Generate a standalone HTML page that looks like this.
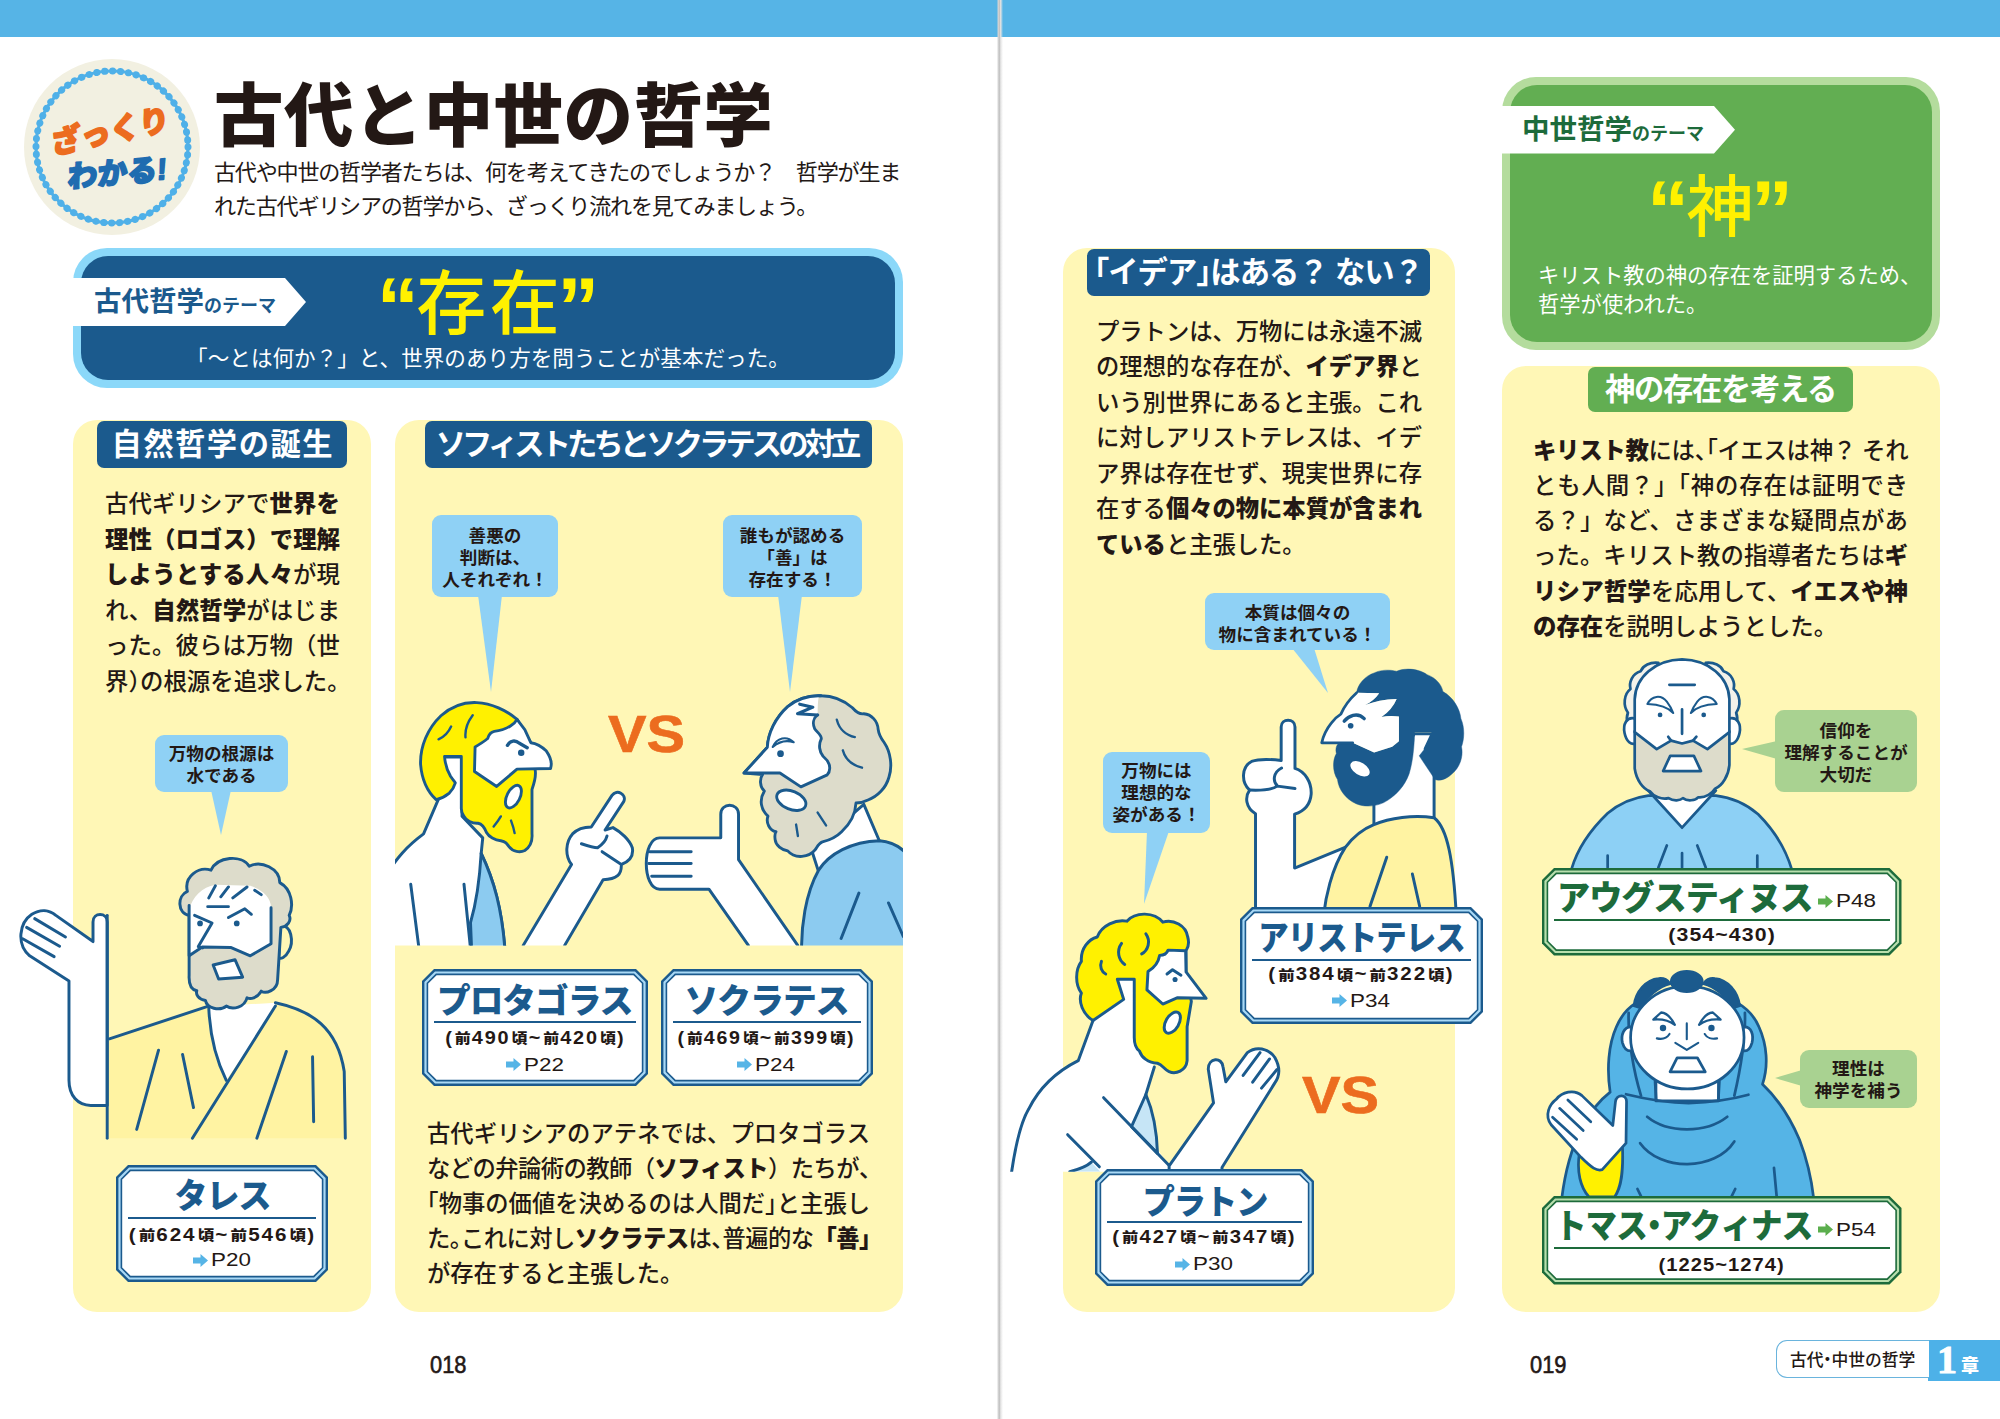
<!DOCTYPE html>
<html lang="ja">
<head>
<meta charset="utf-8">
<title>古代と中世の哲学</title>
<style>
html,body{margin:0;padding:0;}
body{width:2000px;height:1419px;position:relative;overflow:hidden;background:#fff;
 font-family:"Liberation Sans","Noto Sans CJK JP",sans-serif;color:#231815;}
.abs{position:absolute;}
.topbar{left:0;top:0;width:2000px;height:37px;background:#56b4e6;}
.gutter{left:996.6px;top:0;width:6px;height:1419px;background:linear-gradient(90deg,rgba(215,215,215,0),#d6d6d6 18%,#c1c1c1 46%,#e4e4e4 60%,rgba(240,240,240,0) 100%);}
.panel{background:#fff7b6;border-radius:24px;}
.hd{background:#1b5a8d;color:#fff;border-radius:7px;font-weight:700;text-align:center;white-space:nowrap;}
.hd.g{background:#62ae52;}
.body{font-size:23.4px;line-height:35.55px;font-weight:500;color:#231815;white-space:nowrap;letter-spacing:0;}
.body b{font-weight:900;}
.body div{text-align:justify;text-align-last:justify;text-justify:inter-character;}
.body div.e{text-align-last:left;}
i.h{font-style:normal;font-feature-settings:"halt" 1;}
.bub{background:#8fd1f5;border-radius:9px;color:#231815;font-weight:700;font-size:17.6px;line-height:21.8px;text-align:center;white-space:nowrap;}
.bub.g{background:#a9d291;}
.np{white-space:nowrap;text-align:center;}
.np .nm{font-weight:900;color:#1b5a8d;}
.np.g .nm{color:#1d6b3b;}
.np .dt{font-family:"Liberation Sans","Noto Sans CJK JP",sans-serif;font-weight:700;font-size:17.5px;color:#231815;letter-spacing:1.6px;}
.np .dt .k{font-size:14px;font-weight:900;letter-spacing:0;margin:0 1px;position:relative;top:-0.5px;}
.np .pg{font-family:"Liberation Sans",sans-serif;font-weight:400;font-size:17.5px;color:#231815;white-space:nowrap;}
.np .pg span{display:inline-block;transform:scaleX(1.28);transform-origin:0 50%;}
.np svg.ar{position:relative;display:inline-block;vertical-align:-1px;}
.vs{font-family:"Liberation Sans",sans-serif;font-weight:700;color:#ec6c1f;font-size:52px;line-height:50px;white-space:nowrap;transform:scaleX(1.11);transform-origin:0 50%;-webkit-text-stroke:0.6px #ec6c1f;}
.q{display:inline-block;font-family:"Liberation Sans",sans-serif;font-weight:700;font-size:84px;line-height:40px;vertical-align:top;position:relative;top:23.5px;margin:0 -2.5px;}
svg{position:absolute;overflow:visible;}
svg.c{overflow:hidden;}
</style>
</head>
<body>
<div class="abs topbar"></div>
<div class="abs gutter"></div>

<!-- ===== LEFT PAGE HEADER ===== -->
<svg id="badge" style="left:22px;top:58px" width="180" height="180" viewBox="0 0 180 180">
 <circle cx="90" cy="89" r="88" fill="#f2f0e1"/>
 <circle cx="90" cy="89" r="76" fill="none" stroke="#4fb0e8" stroke-width="7" stroke-dasharray="0.1 7.86" stroke-linecap="round"/>
 <circle cx="90" cy="89" r="76" fill="none" stroke="#4fb0e8" stroke-width="3.2"/>
 <text x="90" y="94" text-anchor="middle" font-family="'Liberation Sans','Noto Sans CJK JP',sans-serif" font-weight="900" font-size="30" fill="#ec6c1f" stroke="#ec6c1f" stroke-width="1.8" stroke-linejoin="round" transform="translate(9,-12.5) rotate(-12 90 80) skewX(-8)">ざっくり</text>
 <text x="96" y="127" text-anchor="middle" font-family="'Liberation Sans','Noto Sans CJK JP',sans-serif" font-weight="900" font-size="30" fill="#1f6cb0" stroke="#1f6cb0" stroke-width="1.6" stroke-linejoin="round" transform="translate(16,-2.5) rotate(-5 90 120) skewX(-8)">わかる!</text>
</svg>
<div class="abs" id="title" style="left:214px;top:67px;font-size:69.5px;line-height:100px;font-weight:900;color:#231815;white-space:nowrap;letter-spacing:0.4px;">古代と中世の哲学</div>
<div class="abs" id="sub1" style="left:214px;top:156px;font-size:22.1px;line-height:34px;font-weight:400;white-space:nowrap;letter-spacing:-1.25px;">古代や中世の哲学者たちは、何を考えてきたのでしょうか？　哲学が生ま<br>れた古代ギリシアの哲学から、ざっくり流れを見てみましょう。</div>

<!-- theme box (ancient) -->
<div class="abs" style="left:73px;top:248px;width:830px;height:140px;border-radius:34px;background:#8bd8f9;"></div>
<div class="abs" style="left:81px;top:256px;width:814px;height:124px;border-radius:27px;background:#1b5a8d;"></div>
<svg style="left:73px;top:278px" width="236" height="48" viewBox="0 0 236 48"><polygon points="0,0 212,0 233,24 212,48 0,48" fill="#fff"/></svg>
<div class="abs" id="tag1" style="left:94px;top:278px;height:48px;line-height:48px;color:#1b5a8d;font-weight:700;white-space:nowrap;"><span style="font-size:27.5px;">古代哲学</span><span style="font-size:18px;position:relative;top:1px;">のテーマ</span></div>
<div class="abs" id="sonzai" style="left:288px;top:263px;width:400px;text-align:center;font-size:70px;line-height:84px;font-weight:500;color:#fff100;white-space:nowrap;"><span class="q">“</span><span style="letter-spacing:3.5px;margin-right:-3.5px">存在</span><span class="q">”</span></div>
<div class="abs" id="sonzaisub" style="left:88px;top:342px;width:800px;text-align:center;font-size:21.6px;line-height:34px;color:#fff;white-space:nowrap;">「～とは何か？」と、世界のあり方を問うことが基本だった。</div>

<!-- ===== PANEL 1 ===== -->
<div class="abs panel" style="left:73px;top:420px;width:298px;height:892px;"></div>
<div class="abs hd" style="left:97px;top:421px;width:250px;height:47px;line-height:48px;font-size:30.3px;"><span id="h1" style="display:inline-block;letter-spacing:1.5px;margin-right:-1.5px;">自然哲学の誕生</span></div>
<div class="abs body" id="b1" style="left:105px;top:487.2px;width:235px;"><div>古代ギリシアで<b>世界を</b></div><div><b>理性（ロゴス）で理解</b></div><div><b>しようとする人々</b>が現</div><div>れ、<b>自然哲学</b>がはじま</div><div>った。彼らは万物（世</div><div class="e">界<i class="h">）</i>の根源を追求した。</div></div>
<div class="abs bub" style="left:155px;top:735px;width:133px;height:57px;padding-top:0;"><div style="padding-top:9px">万物の根源は<br>水である</div></div>
<svg style="left:205px;top:790px" width="30" height="46" viewBox="0 0 30 46"><polygon points="6,0 26,0 16,45" fill="#8fd1f5"/></svg>

<!-- ===== PANEL 2 ===== -->
<div class="abs panel" style="left:395px;top:420px;width:508px;height:892px;"></div>
<div class="abs hd" style="left:425px;top:421px;width:447px;height:47px;line-height:48px;font-size:30.3px;"><span id="h2" style="display:inline-block;letter-spacing:-3.9px;margin-right:3.9px;">ソフィストたちとソクラテスの対立</span></div>
<div class="abs bub" style="left:432px;top:515px;width:126px;height:82px;"><div style="padding-top:11px">善悪の<br>判断は、<br>人それぞれ！</div></div>
<svg style="left:470px;top:595px" width="40" height="98" viewBox="0 0 40 98"><polygon points="8,0 32,0 21,97" fill="#8fd1f5"/></svg>
<div class="abs bub" style="left:723px;top:515px;width:139px;height:82px;"><div style="padding-top:11px">誰もが認める<br>「善」は<br>存在する！</div></div>
<svg style="left:770px;top:595px" width="40" height="98" viewBox="0 0 40 98"><polygon points="8,0 32,0 20,97" fill="#8fd1f5"/></svg>
<div class="abs vs" style="left:607.5px;top:708.5px;">VS</div>
<div class="abs body" id="b2" style="left:427px;top:1117px;width:443px;font-size:23.3px;line-height:35px;"><div>古代ギリシアのアテネでは、プロタゴラス</div><div style="letter-spacing:-0.62px">などの弁論術の教師（<b>ソフィスト</b>）たちが<i class="h">、</i></div><div><i class="h">「</i>物事の価値を決めるのは人間だ<i class="h">」</i>と主張し</div><div style="letter-spacing:-0.62px">た<i class="h">。</i>これに対し<b>ソクラテス</b>は<i class="h">、</i>普遍的な<b>「善<i class="h">」</i></b></div><div class="e">が存在すると主張した。</div></div>
<div class="abs" style="left:430px;top:1351.5px;font-size:24.3px;line-height:26px;font-weight:400;transform:scaleX(0.9);transform-origin:0 50%;-webkit-text-stroke:0.6px #231815;">018</div>

<!-- ===== PANEL 3 ===== -->
<div class="abs panel" style="left:1063px;top:248px;width:392px;height:1064px;"></div>
<div class="abs hd" style="left:1087px;top:249px;width:343px;height:47px;line-height:48px;font-size:30.3px;"><span id="h3" style="display:inline-block;letter-spacing:-1px;"><i class="h">「</i>イデア<i class="h">」</i>はある？ ない？</span></div>
<div class="abs body" id="b3" style="left:1096px;top:314.5px;width:326px;font-size:23.3px;"><div>プラトンは、万物には永遠不滅</div><div>の理想的な存在が、<b>イデア界</b>と</div><div>いう別世界にあると主張。これ</div><div>に対しアリストテレスは、イデ</div><div>ア界は存在せず、現実世界に存</div><div>在する<b>個々の物に本質が含まれ</b></div><div class="e"><b>ている</b>と主張した。</div></div>
<div class="abs bub" style="left:1205px;top:593px;width:185px;height:57px;"><div style="padding-top:10px">本質は個々の<br>物に含まれている！</div></div>
<svg style="left:1290px;top:648px" width="50" height="46" viewBox="0 0 50 46"><polygon points="2,0 24,0 38,45" fill="#8fd1f5"/></svg>
<div class="abs bub" style="left:1103px;top:752px;width:107px;height:81px;"><div style="padding-top:9px">万物には<br>理想的な<br>姿がある！</div></div>
<svg style="left:1130px;top:831px" width="50" height="86" viewBox="0 0 50 86"><polygon points="17,0 39,0 14,73" fill="#8fd1f5"/></svg>
<div class="abs vs" style="left:1301.5px;top:1070px;">VS</div>

<!-- ===== GREEN THEME BOX ===== -->
<div class="abs" style="left:1502px;top:77px;width:438px;height:273px;border-radius:34px;background:#b4dc9d;"></div>
<div class="abs" style="left:1510px;top:85px;width:422px;height:257px;border-radius:27px;background:#62ae52;"></div>
<svg style="left:1502px;top:105.5px" width="236" height="47.5" viewBox="0 0 236 48" preserveAspectRatio="none"><polygon points="0,0 212,0 233,24 212,48 0,48" fill="#fff"/></svg>
<div class="abs" id="tag2" style="left:1522px;top:105.5px;height:48px;line-height:48px;color:#1d6b3b;font-weight:700;white-space:nowrap;"><span style="font-size:27.5px;">中世哲学</span><span style="font-size:18px;position:relative;top:1px;">のテーマ</span></div>
<div class="abs" id="kami" style="left:1520px;top:166px;width:400px;text-align:center;font-size:67px;line-height:84px;font-weight:500;color:#fff100;white-space:nowrap;"><span class="q">“</span>神<span class="q">”</span></div>
<div class="abs" id="kamisub" style="left:1538px;top:261.5px;font-size:21.3px;line-height:29.5px;color:#fff;white-space:nowrap;">キリスト教の神の存在を証明するため、<br>哲学が使われた。</div>

<!-- ===== PANEL 4 ===== -->
<div class="abs panel" style="left:1502px;top:366px;width:438px;height:946px;"></div>
<div class="abs hd g" style="left:1588px;top:367px;width:265px;height:45px;line-height:46px;font-size:30.3px;"><span id="h4" style="display:inline-block;letter-spacing:-1.3px;">神の存在を考える</span></div>
<div class="abs body" id="b4" style="left:1533px;top:433.5px;width:375px;line-height:35.3px;"><div style="letter-spacing:-0.5px"><b>キリスト教</b>には<i class="h">、</i><i class="h">「</i>イエスは神？ それ</div><div>とも人間？」「神の存在は証明でき</div><div>る？」など、さまざまな疑問点があ</div><div>った。キリスト教の指導者たちは<b>ギ</b></div><div><b>リシア哲学</b>を応用して、<b>イエスや神</b></div><div class="e"><b>の存在</b>を説明しようとした。</div></div>
<div class="abs bub g" style="left:1775px;top:710px;width:142px;height:82px;"><div style="padding-top:11px">信仰を<br>理解することが<br>大切だ</div></div>
<svg style="left:1742px;top:735px" width="36" height="30" viewBox="0 0 36 30"><polygon points="35,6 35,24 0,14" fill="#a9d291"/></svg>
<div class="abs bub g" style="left:1800px;top:1050px;width:117px;height:58px;"><div style="padding-top:9px">理性は<br>神学を補う</div></div>
<svg style="left:1775px;top:1066px" width="28" height="24" viewBox="0 0 28 24"><polygon points="27,4 27,20 0,12" fill="#a9d291"/></svg>
<div class="abs" style="left:1530px;top:1351.5px;font-size:24.3px;line-height:26px;font-weight:400;transform:scaleX(0.9);transform-origin:0 50%;-webkit-text-stroke:0.6px #231815;">019</div>

<!-- footer tab -->
<div class="abs" style="left:1928px;top:1340px;width:72px;height:41px;background:#4db1e8;"></div>
<div class="abs" style="left:1776px;top:1340px;width:152px;height:36px;border:1.6px solid #6ab4dd;border-right:none;border-radius:11px 0 0 11px;background:#fff;"></div>
<div class="abs" style="left:1790px;top:1341px;height:41px;line-height:40px;font-size:16.8px;font-weight:500;white-space:nowrap;letter-spacing:0;">古代<span style="margin:0 -4.5px">・</span>中世の哲学</div>
<div class="abs" style="left:1937px;top:1337.5px;height:44px;line-height:44px;color:#fff;white-space:nowrap;"><span style="font-family:'Liberation Serif',serif;font-weight:700;font-size:40px;-webkit-text-stroke:1px #fff;">1</span><span style="font-size:18px;font-weight:900;margin-left:4px;position:relative;top:-1px;">章</span></div>

<!--FIG-START-->
<svg id="figs" style="left:0;top:0" width="2000" height="1419" viewBox="0 0 2000 1419">
<!-- THALES: zoom region (10,840)-(370,1150), scale 360/1648 -->
<g transform="translate(10,840) scale(0.218447)" stroke="#1b5a8d" stroke-width="13.5" stroke-linejoin="round" stroke-linecap="round" fill="none">
 <!-- robe -->
 <path d="M445,1365 L445,912 L905,762 L1215,745 C1380,780 1500,860 1530,1060 L1535,1365 Z" fill="#fff3a2" stroke="none"/>
 <!-- neck -->
 <path d="M905,762 L1215,745 L1215,770 L990,1100 C930,980 915,880 905,762 Z" fill="#fff" stroke="none"/>
 <path d="M910,770 C915,880 935,990 990,1100"/>
 <path d="M1215,760 L835,1365"/>
 <path d="M455,910 L905,762"/>
 <path d="M1215,745 C1380,780 1500,860 1530,1060 L1535,1365"/>
 <path d="M680,962 L580,1325 M790,982 L840,1225 M1265,968 L1130,1365 M1385,992 L1390,1290"/>
 <!-- arm + hand -->
 <path d="M445,1215 L370,1215 C310,1215 270,1170 270,1100 L270,645 L90,530 C30,480 40,380 100,340 C140,315 180,320 210,345 L380,465 L380,375 C380,330 445,330 445,375 Z" fill="#fff"/>
 <path d="M445,345 L445,1365"/>
 <path d="M113,360 L254,444 M76,400 L227,486 M58,452 L202,534"/>
 <!-- ear -->
 <path d="M1235,395 C1290,380 1300,470 1275,510 C1260,540 1240,545 1230,540 Z" fill="#fff7b6"/>
 <!-- hair + beard -->
 <path d="M820,345 C765,335 765,255 812,235 C795,165 865,120 920,138 C950,75 1060,65 1095,120 C1150,92 1235,130 1235,195 C1290,225 1300,300 1278,345 C1290,370 1270,395 1240,400 L1230,560 L1225,640 C1225,690 1170,705 1150,692 C1130,725 1100,730 1085,722 C1075,765 1020,780 990,760 C960,785 900,770 895,735 C860,730 850,705 855,690 C830,685 818,660 820,620 Z" fill="#dddccb"/>
 <!-- face -->
 <path d="M820,530 L820,320 C835,260 880,215 940,205 L1100,210 C1150,225 1195,260 1195,310 L1195,475 L1100,530 L1010,492 L880,490 Z" fill="#fff" stroke="none"/>
 <path d="M820,300 L820,530 L880,490 L1010,492 L1100,530 L1195,475 L1195,310"/>
 <!-- mouth -->
 <path d="M930,572 L1030,548 L1065,628 L955,636 Z" fill="#fff"/>
 <!-- features -->
 <path d="M905,305 L1000,305 M845,345 L925,380 L862,488 L882,494 M1000,355 L1075,315 L1105,340"/>
 <path d="M940,210 L910,265 M1000,215 L965,260 M1085,215 L1020,265 M1120,230 L1150,250"/>
 <circle cx="870" cy="382" r="13" fill="#1b5a8d" stroke="none"/><circle cx="1038" cy="382" r="13" fill="#1b5a8d" stroke="none"/>
</g>
<svg class="c" x="395" y="600" width="508" height="345.5" viewBox="395 600 508 345.5">
<!-- PROTAGORAS: zoom region (390,680)-(670,960) scale 280/1419 -->
<g transform="translate(390,680) scale(0.19732)" stroke="#1b5a8d" stroke-width="15" stroke-linejoin="round" stroke-linecap="round" fill="none">
 <!-- body -->
 <path d="M-30,1400 L-30,1010 C30,900 90,840 170,780 L245,605 L275,390 L365,390 L365,690 L470,800 L462,880 C520,1000 570,1150 585,1400 Z" fill="#fff"/>
 <path d="M462,878 C525,1010 570,1160 585,1400 L415,1400 L408,1230 C440,1120 455,1000 462,878 Z" fill="#8ccbf0"/>
 <path d="M105,1035 L152,1400 M375,1035 L412,1400"/>
 <!-- arm -->
 <path d="M675,1400 L675,1345 L920,935 C885,890 890,820 925,780 C950,755 990,745 1020,745 L1125,585 C1150,550 1200,580 1185,615 L1090,760 L1130,748 C1170,770 1215,810 1228,850 C1235,890 1215,920 1172,935 C1175,985 1150,1010 1080,1012 L885,1345 L885,1400 Z" fill="#fff"/>
 <path d="M970,830 C1000,840 1030,850 1052,850 C1075,835 1095,810 1100,790 M1075,870 L1165,930"/>
</g>
<!-- PROTAGORAS head: zoom region (405,690)-(575,860) scale 170/1419 -->
<g transform="translate(405,690) scale(0.119803)" stroke="#1b5a8d" stroke-width="24" stroke-linejoin="round" stroke-linecap="round" fill="none">
 <path d="M260,915 C190,850 140,740 130,620 C125,470 190,320 300,215 C390,135 500,100 600,105 C720,110 850,170 935,245 L1050,440 L1085,660 C1095,700 1085,760 1060,830 L1060,1200 C1065,1260 1045,1310 1000,1340 C960,1360 900,1350 870,1310 C850,1280 840,1265 800,1258 C750,1255 700,1225 680,1190 C665,1150 650,1120 610,1112 C560,1115 510,1090 490,1050 C475,1030 470,1010 470,990 L470,555 L330,555 C335,620 350,670 380,720 C400,750 415,765 420,775 C410,810 390,840 370,860 C340,885 300,905 260,915 Z" fill="#fff100"/>
 <path d="M585,475 C620,455 660,430 690,405 C700,370 720,350 745,345 C790,340 840,325 880,300 C905,285 925,265 935,245 L1000,330 L1050,440 C1090,445 1140,470 1180,510 C1215,560 1230,610 1215,655 L935,660 L765,805 L580,680 Z" fill="#fff"/>
 <ellipse cx="905" cy="890" rx="54" ry="102" transform="rotate(27 905 890)" fill="#fff"/>
 <path d="M385,305 C360,360 320,395 280,412 M565,210 C520,270 500,340 505,395 M800,1055 C780,1090 760,1115 740,1140 M885,1090 C900,1130 910,1165 915,1195" stroke-width="20"/>
 <path d="M855,462 C880,420 920,415 955,445 L1020,482" stroke-width="28"/>
 <circle cx="970" cy="524" r="27" fill="#1b5a8d" stroke="none"/>
</g>
<!-- SOCRATES: zoom region (630,680)-(910,960) -->
<g transform="translate(630,680) scale(0.19732)" stroke="#1b5a8d" stroke-width="15" stroke-linejoin="round" stroke-linecap="round" fill="none">
 <!-- neck -->
 <path d="M920,860 L960,985 L1270,830 L1185,630 Z" fill="#fff"/>
 <!-- robe -->
 <path d="M870,1400 C865,1250 890,1080 955,965 C1010,880 1120,820 1265,815 C1330,820 1380,850 1420,900 L1420,1400 Z" fill="#8ccbf0"/>
 <path d="M1160,1080 L1070,1310 M1310,1130 L1385,1300"/>
</g>
<!-- SOCRATES head: zoom region (735,685)-(905,855) scale 170/1419 -->
<g transform="translate(735,685) scale(0.119803)" stroke="#1b5a8d" stroke-width="24" stroke-linejoin="round" stroke-linecap="round" fill="none">
 <path d="M270,520 C275,400 340,270 440,180 C520,115 620,85 720,90 C820,90 910,130 980,190 C1010,225 1040,245 1075,240 C1140,245 1190,300 1195,370 C1200,410 1215,440 1245,480 C1300,560 1315,680 1285,770 C1260,860 1190,930 1110,960 C1080,975 1040,985 1010,985 C1005,1080 960,1160 890,1225 C850,1265 790,1295 730,1310 C700,1320 690,1345 670,1375 C620,1440 500,1455 440,1385 C390,1375 340,1340 335,1290 C330,1255 335,1235 342,1225 C290,1215 255,1150 275,1095 C215,1040 200,960 245,885 C205,850 205,780 230,748 L75,735 Z" fill="#dddccb"/>
 <path d="M270,520 C275,400 340,270 440,180 C520,115 620,85 700,90 C690,140 690,200 690,250 C655,275 645,320 665,365 C690,400 725,420 720,450 C695,500 705,560 735,595 C770,625 795,660 790,700 C790,720 780,740 770,750 L550,850 L375,735 L75,735 Z" fill="#fff" stroke="none"/>
 <path d="M690,250 C655,275 645,320 665,365 C690,400 725,420 720,450 C695,500 705,560 735,595 C770,625 795,660 790,700 C790,720 780,740 770,750 L550,850 L375,735 L75,735 L270,520 C275,400 340,270 440,180 C520,115 620,85 720,90"/>
 <path d="M540,160 L650,185 L522,240 L690,250" stroke-width="26"/>
 <ellipse cx="470" cy="962" rx="128" ry="76" transform="rotate(22 470 962)" fill="#fff"/>
 <path d="M850,290 C870,370 930,420 1000,435 M900,545 C920,620 980,670 1060,690 M690,1065 L760,1172 M510,1165 L525,1260" stroke-width="20"/>
 <path d="M315,517 C350,440 430,420 490,478 C430,458 370,470 315,517 Z" fill="#fff" stroke-width="18"/>
 <circle cx="380" cy="573" r="28" fill="#1b5a8d" stroke="none"/>
</g>
<g transform="translate(630,680) scale(0.19732)" stroke="#1b5a8d" stroke-width="15" stroke-linejoin="round" stroke-linecap="round" fill="none">
 <!-- arm/hand -->
 <path d="M600,1400 L600,1345 L400,1060 L150,1060 C60,1060 60,800 150,800 L460,800 L460,680 C460,620 550,620 550,680 L550,910 L850,1345 L850,1400 Z" fill="#fff"/>
 <path d="M100,870 L310,870 M95,930 L310,930 M110,995 L310,995"/>
</g>
</svg>
<!-- ARISTOTLE: zoom region (1220,650)-(1500,930) -->
<svg class="c" x="1200" y="600" width="300" height="315" viewBox="1200 600 300 315">
<g transform="translate(1220,650) scale(0.19732)" stroke="#1b5a8d" stroke-width="15" stroke-linejoin="round" stroke-linecap="round" fill="none">
 <!-- neck -->
 <path d="M780,700 L780,890 L1085,860 L1085,560 L1040,500 L1075,425 L985,425 Z" fill="#fff"/>
 <!-- arm -->
 <path d="M180,1400 L180,830 C130,800 125,745 150,710 C105,670 110,590 160,565 C200,550 270,555 310,560 L310,390 C310,345 380,345 380,390 L380,600 C430,615 465,670 462,730 C458,780 430,815 378,832 L378,1105 L640,998 L700,1000 L600,1400 Z" fill="#fff"/>
 <path d="M150,710 C200,712 260,712 290,690 M312,598 C270,620 265,665 292,690 L380,702"/>
 <!-- robe -->
 <path d="M520,1400 C530,1250 570,1100 635,1000 C680,940 730,905 780,885 C860,850 980,835 1085,850 C1150,900 1185,1050 1200,1400 Z" fill="#fff3a2"/>
 <path d="M845,1050 L760,1300 M975,1135 L1012,1300"/>
</g>
<!-- head: zoom region (1320,660)-(1480,820) scale 160/1419 -->
<g transform="translate(1320,660) scale(0.11275)" stroke="#1b5a8d" stroke-width="26" stroke-linejoin="round" stroke-linecap="round" fill="none">
 <path d="M325,290 C330,220 400,140 480,115 C540,85 620,85 680,100 C760,65 880,80 950,130 C1030,160 1080,220 1090,280 C1180,330 1240,430 1250,520 C1285,600 1280,700 1255,770 C1275,860 1235,960 1170,1010 C1120,1060 1060,1075 1020,1060 L880,850 C930,790 975,720 990,640 L840,640 C835,760 825,900 790,1010 C750,1120 680,1190 600,1245 C520,1300 400,1310 320,1275 C230,1235 165,1150 155,1060 C110,990 110,890 145,830 C135,790 145,760 160,745 L290,735 L480,820 L640,770 L700,720 L700,500 Q610,490 545,505 Q640,440 680,345 Q520,350 400,400 Q480,360 525,295 Z" fill="#1b5a8d" stroke-width="4"/>
 <path d="M325,290 L525,295 Q480,360 400,400 Q520,350 680,345 Q640,440 545,505 Q610,490 700,500 L700,720 L640,770 L480,820 L290,735 L15,735 C25,690 60,610 100,560 C130,520 160,495 185,480 C215,410 270,340 325,290 Z" fill="#fff" stroke="none"/>
 <path d="M290,735 L15,735 C25,690 60,610 100,560 C130,520 160,495 185,480 C215,410 270,340 325,290" stroke-width="24"/>
 <ellipse cx="355" cy="965" rx="95" ry="55" transform="rotate(32 355 965)" fill="#fff" stroke="none"/>
 <path d="M215,542 C250,500 330,455 392,520" stroke-width="30"/>
 <circle cx="272" cy="583" r="25" fill="#1b5a8d" stroke="none"/>
</g>
</svg>
<!-- PLATO: zoom region (1000,900)-(1300,1200) scale 300/1419 -->
<svg class="c" x="1000" y="880" width="320" height="291.7" viewBox="1000 880 320 291.7">
<g transform="translate(1000,900) scale(0.21142)" stroke="#1b5a8d" stroke-width="14" stroke-linejoin="round" stroke-linecap="round" fill="none">
 <!-- body -->
 <path d="M55,1285 C75,1150 100,1050 135,990 C180,900 250,820 370,760 L440,570 L585,470 L555,375 L635,375 L635,650 L730,790 L690,920 L745,1180 L800,1258 L800,1330 L40,1330 Z" fill="#fff" stroke="none"/>
 <path d="M55,1285 C75,1150 100,1050 135,990 C180,900 250,820 370,760 L440,570"/>
 <path d="M690,920 L622,1072 L745,1199 C742,1100 725,1000 690,920 Z" fill="#c6e5f6"/>
 <path d="M330,1285 C370,1275 410,1260 432,1240 L475,1285 Z" fill="#c6e5f6" stroke="none"/>
 <path d="M330,1285 C370,1275 410,1260 432,1240"/>
 <path d="M730,790 L690,920 M490,935 L800,1256 M320,1110 L470,1262"/>
 <!-- arm -->
 <path d="M800,1330 L800,1258 L1010,960 L985,800 C985,745 1050,740 1055,790 L1068,860 L1170,722 C1210,690 1270,700 1300,745 C1325,790 1325,830 1300,865 L1050,1265 L1050,1330 Z" fill="#fff"/>
 <path d="M1230,722 L1150,830 M1275,752 L1195,862 M1310,802 L1237,890"/>
 <!-- hair + beard -->
 <path d="M440,570 C390,540 370,480 385,440 C355,400 355,330 385,290 C380,230 420,185 460,175 C480,120 550,90 600,100 C640,55 730,55 770,105 C820,90 880,120 888,175 C895,200 890,225 880,240 L880,340 L905,480 L885,600 L885,760 C880,810 830,825 800,812 C775,800 770,780 745,772 C700,770 670,745 660,715 C640,700 635,670 635,650 L635,375 L555,375 L585,470 Z" fill="#fff100"/>
 <!-- face -->
 <path d="M700,338 C730,320 750,290 755,262 C775,262 790,250 795,237 L878,240 L880,340 L975,465 L840,462 L770,492 L695,425 Z" fill="#fff"/>
 <ellipse cx="815" cy="580" rx="31" ry="55" transform="rotate(30 815 580)" fill="#fff"/>
 <path d="M575,205 C550,240 560,285 590,305 M690,160 C715,195 700,240 670,255 M480,290 C470,315 480,340 500,350"/>
 <path d="M790,350 L816,330 L856,356" stroke-width="14"/>
 <circle cx="828" cy="376" r="12" fill="#1b5a8d" stroke="none"/>
</g>
</svg>
<!-- AUGUSTINE: zoom region (1540,640)-(1840,880) scale 300/1774 -->
<svg class="c" x="1540" y="640" width="330" height="229" viewBox="1540 640 330 229">
<g transform="translate(1540,640) scale(0.16911)" stroke="#1b5a8d" stroke-width="16" stroke-linejoin="round" stroke-linecap="round" fill="none">
 <!-- robe -->
 <path d="M175,1400 C200,1280 270,1150 400,1025 C470,965 560,930 640,920 L1040,920 C1130,930 1220,970 1290,1030 C1400,1140 1470,1270 1500,1400 Z" fill="#8dd0f5"/>
 <path d="M640,890 L840,1110 L1040,890 Z" fill="#fff"/>
 <path d="M400,1275 L400,1345 M1285,1275 L1285,1345 M750,1215 L700,1345 M840,1260 L840,1345 M930,1215 L980,1345"/>
 <!-- side hair -->
 <path d="M700,135 C650,130 610,150 595,185 C545,200 525,250 535,290 C495,320 490,390 520,430 C505,470 520,510 560,540 L620,300 Z" fill="#f3f2ea"/>
 <path d="M980,135 C1030,130 1070,150 1085,185 C1135,200 1155,250 1145,290 C1185,320 1190,390 1160,430 C1175,470 1160,510 1120,540 L1060,300 Z" fill="#f3f2ea"/>
 <!-- ears -->
 <path d="M565,465 C510,450 490,500 500,550 C510,600 540,625 570,610 Z" fill="#fff"/>
 <path d="M1115,465 C1170,450 1190,500 1180,550 C1170,600 1140,625 1110,610 Z" fill="#fff"/>
 <!-- beard -->
 <path d="M560,540 L560,760 C570,830 610,880 650,895 C670,925 720,945 760,935 C790,955 830,950 845,935 C870,955 920,950 935,930 C980,935 1020,905 1035,880 C1080,860 1115,800 1120,740 L1120,540 Z" fill="#dddccb"/>
 <!-- head -->
 <path d="M560,545 L560,350 C565,220 680,118 840,115 C1000,118 1115,220 1120,350 L1120,545 L990,645 L905,595 L840,612 L775,595 L690,645 Z" fill="#fff"/>
 <path d="M775,595 L758,572 M905,595 L925,572"/>
 <!-- mouth -->
 <path d="M770,685 L910,685 L952,775 L728,775 Z" fill="#fff"/>
 <!-- features -->
 <path d="M765,265 L915,265 M840,410 L840,555"/>
 <path d="M635,378 C660,330 715,320 750,365 C765,385 780,410 788,432 C760,400 700,380 635,378 Z" fill="#fff" stroke-width="12"/>
 <path d="M1045,378 C1020,330 965,320 930,365 C915,385 900,410 892,432 C920,400 980,380 1045,378 Z" fill="#fff" stroke-width="12"/>
 <circle cx="710" cy="443" r="14" fill="#1b5a8d" stroke="none"/><circle cx="968" cy="443" r="14" fill="#1b5a8d" stroke="none"/>
</g>
</svg>
<!-- THOMAS: zoom region (1530,960)-(1830,1210) scale 300/1703 -->
<svg class="c" x="1530" y="950" width="330" height="248" viewBox="1530 950 330 248">
<g transform="translate(1530,960) scale(0.17616)" stroke="#1b5a8d" stroke-width="15.5" stroke-linejoin="round" stroke-linecap="round" fill="none">
 <!-- robe body -->
 <path d="M175,1400 C190,1250 220,1100 290,960 C330,880 390,800 455,750 C435,620 445,480 490,380 C520,310 560,270 600,245 L1180,245 C1230,275 1275,320 1300,380 C1345,480 1355,600 1320,705 C1400,780 1470,880 1530,1020 C1580,1150 1605,1280 1615,1400 Z" fill="#55b4e6"/>
 <!-- neck -->
 <path d="M715,680 L715,800 L1070,800 L1070,680 Z" fill="#fff"/>
 <!-- cowl -->
 <path d="M545,762 C700,800 800,812 900,812 C1040,808 1150,790 1240,765"/>
 <path d="M560,300 C555,450 590,640 630,770 M1220,300 C1225,450 1190,640 1160,770 M710,690 L716,795 M1075,690 L1069,795"/>
 <path d="M665,890 C780,985 1000,985 1120,890 M625,1040 C740,1200 1050,1200 1160,1030"/>
 <path d="M1385,1180 L1400,1340 M610,1300 L630,1340 M1165,1300 L1145,1340"/>
 <!-- yellow sleeve -->
 <path d="M280,1100 C265,1200 285,1290 335,1345 L480,1345 C520,1290 530,1200 525,1060 Z" fill="#fff100"/>
 <!-- hair -->
 <path d="M590,260 C600,180 660,110 730,105 C760,100 785,115 795,135 C740,150 680,190 625,270 Z" fill="#1b5a8d"/>
 <path d="M1190,260 C1180,180 1120,110 1050,105 C1020,100 995,115 985,135 C1040,150 1100,190 1155,270 Z" fill="#1b5a8d"/>
 <!-- ears -->
 <path d="M580,380 C530,375 515,430 525,470 C535,505 555,520 580,515 Z" fill="#fff"/>
 <path d="M1210,380 C1260,375 1270,430 1260,470 C1250,505 1235,520 1210,515 Z" fill="#fff"/>
 <!-- face -->
 <ellipse cx="893" cy="440" rx="322" ry="292" fill="#fff"/>
 <ellipse cx="890" cy="122" rx="88" ry="58" fill="#1b5a8d"/>
 <!-- features -->
 <path d="M700,338 L744,298 C775,300 800,325 822,368 C790,343 745,334 700,338 Z" fill="#fff" stroke-width="13"/>
 <path d="M1082,338 L1038,298 C1007,300 982,325 960,368 C992,343 1037,334 1082,338 Z" fill="#fff" stroke-width="13"/>
 <circle cx="755" cy="386" r="18" fill="#1b5a8d" stroke="none"/><circle cx="1030" cy="386" r="18" fill="#1b5a8d" stroke="none"/>
 <path d="M720,445 C750,452 778,442 792,420 M1062,445 C1032,452 1004,442 992,420 M890,360 L890,450 M825,470 L890,510 L955,470" stroke-width="12"/>
 <path d="M835,555 L950,555 L995,635 L795,635 Z" fill="#fff"/>
 <!-- hand -->
 <path d="M410,1190 C380,1200 350,1180 290,1120 L120,935 C80,880 110,820 150,790 C180,750 250,730 295,770 L470,940 L485,805 C490,760 550,760 548,805 L545,1040 Z" fill="#fff"/>
 <path d="M215,795 L345,918 M168,842 L302,968 M128,892 L265,1018"/>
</g>
</svg>
</svg>
<!--FIG-END-->
<!--NP-START-->
<div class="abs np" id="np1" style="left:116px;top:1165px;width:212px;height:117px;"><svg style="left:0;top:0" width="212" height="117" viewBox="0 0 212 117"><polygon points="12.0,0.0 200.0,0.0 212.0,12.0 212.0,105.0 200.0,117.0 12.0,117.0 0.0,105.0 0.0,12.0" fill="#1b5a8d"/><polygon points="13.0,2.4 199.0,2.4 209.6,13.0 209.6,104.0 199.0,114.6 13.0,114.6 2.4,104.0 2.4,13.0" fill="#a9d9f6"/><polygon points="13.9,4.6 198.1,4.6 207.4,13.9 207.4,103.1 198.1,112.4 13.9,112.4 4.6,103.1 4.6,13.9" fill="#1b5a8d"/><polygon points="14.6,6.2 197.4,6.2 205.8,14.6 205.8,102.4 197.4,110.8 14.6,110.8 6.2,102.4 6.2,14.6" fill="#fff"/></svg><div class="abs nm" style="left:0px;top:9px;width:212px;font-size:34px;line-height:44px;"><span style="display:inline-block;letter-spacing:-1px;transform:scaleX(0.9700);">タレス</span></div><div class="abs" style="left:12px;top:52px;width:188px;height:2px;background:#1b5a8d;"></div><div class="abs dt" style="left:0px;top:56.5px;width:212px;line-height:26px;"><span style="display:inline-block;transform:scaleX(1.1800);">(<span class="k">前</span>624<span class="k">頃</span>~<span class="k">前</span>546<span class="k">頃</span>)</span></div><svg style="left:76.5px;top:88.5px" width="15" height="13" viewBox="0 0 15 13"><polygon points="0,3.6 7.5,3.6 7.5,0 15,6.5 7.5,13 7.5,9.4 0,9.4" fill="#56b4e6"/></svg><div class="abs pg" style="left:94.5px;top:82.0px;line-height:26px;"><span>P20</span></div></div>
<div class="abs np" id="np2" style="left:422px;top:969px;width:226px;height:117px;"><svg style="left:0;top:0" width="226" height="117" viewBox="0 0 226 117"><polygon points="12.0,0.0 214.0,0.0 226.0,12.0 226.0,105.0 214.0,117.0 12.0,117.0 0.0,105.0 0.0,12.0" fill="#1b5a8d"/><polygon points="13.0,2.4 213.0,2.4 223.6,13.0 223.6,104.0 213.0,114.6 13.0,114.6 2.4,104.0 2.4,13.0" fill="#a9d9f6"/><polygon points="13.9,4.6 212.1,4.6 221.4,13.9 221.4,103.1 212.1,112.4 13.9,112.4 4.6,103.1 4.6,13.9" fill="#1b5a8d"/><polygon points="14.6,6.2 211.4,6.2 219.8,14.6 219.8,102.4 211.4,110.8 14.6,110.8 6.2,102.4 6.2,14.6" fill="#fff"/></svg><div class="abs nm" style="left:0px;top:10px;width:226px;font-size:34px;line-height:44px;"><span style="display:inline-block;letter-spacing:-1px;transform:scaleX(0.9900);">プロタゴラス</span></div><div class="abs" style="left:12px;top:52px;width:202px;height:2px;background:#1b5a8d;"></div><div class="abs dt" style="left:0px;top:55.5px;width:226px;line-height:26px;"><span style="display:inline-block;transform:scaleX(1.1360);">(<span class="k">前</span>490<span class="k">頃</span>~<span class="k">前</span>420<span class="k">頃</span>)</span></div><svg style="left:83.5px;top:89.0px" width="15" height="13" viewBox="0 0 15 13"><polygon points="0,3.6 7.5,3.6 7.5,0 15,6.5 7.5,13 7.5,9.4 0,9.4" fill="#56b4e6"/></svg><div class="abs pg" style="left:101.5px;top:82.5px;line-height:26px;"><span>P22</span></div></div>
<div class="abs np" id="np3" style="left:660.5px;top:969px;width:212.0px;height:117px;"><svg style="left:0;top:0" width="212.0" height="117" viewBox="0 0 212.0 117"><polygon points="12.0,0.0 200.0,0.0 212.0,12.0 212.0,105.0 200.0,117.0 12.0,117.0 0.0,105.0 0.0,12.0" fill="#1b5a8d"/><polygon points="13.0,2.4 199.0,2.4 209.6,13.0 209.6,104.0 199.0,114.6 13.0,114.6 2.4,104.0 2.4,13.0" fill="#a9d9f6"/><polygon points="13.9,4.6 198.1,4.6 207.4,13.9 207.4,103.1 198.1,112.4 13.9,112.4 4.6,103.1 4.6,13.9" fill="#1b5a8d"/><polygon points="14.6,6.2 197.4,6.2 205.8,14.6 205.8,102.4 197.4,110.8 14.6,110.8 6.2,102.4 6.2,14.6" fill="#fff"/></svg><div class="abs nm" style="left:0px;top:10px;width:212.0px;font-size:34px;line-height:44px;"><span style="display:inline-block;letter-spacing:-1px;transform:scaleX(0.9950);">ソクラテス</span></div><div class="abs" style="left:12px;top:52px;width:188.0px;height:2px;background:#1b5a8d;"></div><div class="abs dt" style="left:0px;top:55.5px;width:212.0px;line-height:26px;"><span style="display:inline-block;transform:scaleX(1.1200);">(<span class="k">前</span>469<span class="k">頃</span>~<span class="k">前</span>399<span class="k">頃</span>)</span></div><svg style="left:76.5px;top:89.0px" width="15" height="13" viewBox="0 0 15 13"><polygon points="0,3.6 7.5,3.6 7.5,0 15,6.5 7.5,13 7.5,9.4 0,9.4" fill="#56b4e6"/></svg><div class="abs pg" style="left:94.5px;top:82.5px;line-height:26px;"><span>P24</span></div></div>
<div class="abs np" id="np4" style="left:1240px;top:906.5px;width:243px;height:117.0px;"><svg style="left:0;top:0" width="243" height="117.0" viewBox="0 0 243 117.0"><polygon points="12.0,0.0 231.0,0.0 243.0,12.0 243.0,105.0 231.0,117.0 12.0,117.0 0.0,105.0 0.0,12.0" fill="#1b5a8d"/><polygon points="13.0,2.4 230.0,2.4 240.6,13.0 240.6,104.0 230.0,114.6 13.0,114.6 2.4,104.0 2.4,13.0" fill="#a9d9f6"/><polygon points="13.9,4.6 229.1,4.6 238.4,13.9 238.4,103.1 229.1,112.4 13.9,112.4 4.6,103.1 4.6,13.9" fill="#1b5a8d"/><polygon points="14.6,6.2 228.4,6.2 236.8,14.6 236.8,102.4 228.4,110.8 14.6,110.8 6.2,102.4 6.2,14.6" fill="#fff"/></svg><div class="abs nm" style="left:0px;top:9px;width:243px;font-size:34px;line-height:44px;"><span style="display:inline-block;letter-spacing:-1px;transform:scaleX(0.8950);">アリストテレス</span></div><div class="abs" style="left:12px;top:52px;width:219px;height:2px;background:#1b5a8d;"></div><div class="abs dt" style="left:0px;top:54.5px;width:243px;line-height:26px;"><span style="display:inline-block;transform:scaleX(1.1730);">(<span class="k">前</span>384<span class="k">頃</span>~<span class="k">前</span>322<span class="k">頃</span>)</span></div><svg style="left:92.0px;top:87.8px" width="15" height="13" viewBox="0 0 15 13"><polygon points="0,3.6 7.5,3.6 7.5,0 15,6.5 7.5,13 7.5,9.4 0,9.4" fill="#56b4e6"/></svg><div class="abs pg" style="left:110.0px;top:81.3px;line-height:26px;"><span>P34</span></div></div>
<div class="abs np" id="np5" style="left:1095px;top:1169px;width:219px;height:117px;"><svg style="left:0;top:0" width="219" height="117" viewBox="0 0 219 117"><polygon points="12.0,0.0 207.0,0.0 219.0,12.0 219.0,105.0 207.0,117.0 12.0,117.0 0.0,105.0 0.0,12.0" fill="#1b5a8d"/><polygon points="13.0,2.4 206.0,2.4 216.6,13.0 216.6,104.0 206.0,114.6 13.0,114.6 2.4,104.0 2.4,13.0" fill="#a9d9f6"/><polygon points="13.9,4.6 205.1,4.6 214.4,13.9 214.4,103.1 205.1,112.4 13.9,112.4 4.6,103.1 4.6,13.9" fill="#1b5a8d"/><polygon points="14.6,6.2 204.4,6.2 212.8,14.6 212.8,102.4 204.4,110.8 14.6,110.8 6.2,102.4 6.2,14.6" fill="#fff"/></svg><div class="abs nm" style="left:0px;top:11px;width:219px;font-size:34px;line-height:44px;"><span style="display:inline-block;letter-spacing:-1px;transform:scaleX(0.9450);">プラトン</span></div><div class="abs" style="left:12px;top:52px;width:195px;height:2px;background:#1b5a8d;"></div><div class="abs dt" style="left:0px;top:54.5px;width:219px;line-height:26px;"><span style="display:inline-block;transform:scaleX(1.1600);">(<span class="k">前</span>427<span class="k">頃</span>~<span class="k">前</span>347<span class="k">頃</span>)</span></div><svg style="left:80.0px;top:88.5px" width="15" height="13" viewBox="0 0 15 13"><polygon points="0,3.6 7.5,3.6 7.5,0 15,6.5 7.5,13 7.5,9.4 0,9.4" fill="#56b4e6"/></svg><div class="abs pg" style="left:98.0px;top:82.0px;line-height:26px;"><span>P30</span></div></div>
<div class="abs np g" id="np6" style="left:1542px;top:867.5px;width:359.5px;height:87.5px;"><svg style="left:0;top:0" width="359.5" height="87.5" viewBox="0 0 359.5 87.5"><polygon points="12.0,0.0 347.5,0.0 359.5,12.0 359.5,75.5 347.5,87.5 12.0,87.5 0.0,75.5 0.0,12.0" fill="#1d6b3b"/><polygon points="13.0,2.4 346.5,2.4 357.1,13.0 357.1,74.5 346.5,85.1 13.0,85.1 2.4,74.5 2.4,13.0" fill="#b9dfae"/><polygon points="13.9,4.6 345.6,4.6 354.9,13.9 354.9,73.6 345.6,82.9 13.9,82.9 4.6,73.6 4.6,13.9" fill="#1d6b3b"/><polygon points="14.6,6.2 344.9,6.2 353.3,14.6 353.3,72.9 344.9,81.3 14.6,81.3 6.2,72.9 6.2,14.6" fill="#fff"/></svg><div class="abs nm" style="left:15px;top:7px;font-size:34px;line-height:46px;"><span style="display:inline-block;letter-spacing:-1px;transform-origin:0 50%;transform:scaleX(0.9750);">アウグスティヌス</span></div><svg style="left:276px;top:27.0px" width="15" height="13" viewBox="0 0 15 13"><polygon points="0,3.6 7.5,3.6 7.5,0 15,6.5 7.5,13 7.5,9.4 0,9.4" fill="#5bae4d"/></svg><div class="abs pg" style="left:294px;top:20.5px;line-height:26px;"><span>P48</span></div><div class="abs" style="left:12px;top:51px;width:335.5px;height:2px;background:#1d6b3b;"></div><div class="abs dt" style="left:0px;top:54.5px;width:359.5px;line-height:26px;font-size:19px;letter-spacing:1px;"><span style="display:inline-block;transform:scaleX(1.1200);">(354~430)</span></div></div>
<div class="abs np g" id="np7" style="left:1542px;top:1196px;width:359.5px;height:88.5px;"><svg style="left:0;top:0" width="359.5" height="88.5" viewBox="0 0 359.5 88.5"><polygon points="12.0,0.0 347.5,0.0 359.5,12.0 359.5,76.5 347.5,88.5 12.0,88.5 0.0,76.5 0.0,12.0" fill="#1d6b3b"/><polygon points="13.0,2.4 346.5,2.4 357.1,13.0 357.1,75.5 346.5,86.1 13.0,86.1 2.4,75.5 2.4,13.0" fill="#b9dfae"/><polygon points="13.9,4.6 345.6,4.6 354.9,13.9 354.9,74.6 345.6,83.9 13.9,83.9 4.6,74.6 4.6,13.9" fill="#1d6b3b"/><polygon points="14.6,6.2 344.9,6.2 353.3,14.6 353.3,73.9 344.9,82.3 14.6,82.3 6.2,73.9 6.2,14.6" fill="#fff"/></svg><div class="abs nm" style="left:13px;top:7px;font-size:34px;line-height:46px;"><span style="display:inline-block;letter-spacing:-1px;transform-origin:0 50%;transform:scaleX(0.9280);">トマス<span style="margin:0 -9px">・</span>アクィナス</span></div><svg style="left:276px;top:27.0px" width="15" height="13" viewBox="0 0 15 13"><polygon points="0,3.6 7.5,3.6 7.5,0 15,6.5 7.5,13 7.5,9.4 0,9.4" fill="#5bae4d"/></svg><div class="abs pg" style="left:294px;top:20.5px;line-height:26px;"><span>P54</span></div><div class="abs" style="left:12px;top:51px;width:335.5px;height:2px;background:#1d6b3b;"></div><div class="abs dt" style="left:0px;top:56px;width:359.5px;line-height:26px;font-size:19px;letter-spacing:1px;"><span style="display:inline-block;transform:scaleX(1.0600);">(1225~1274)</span></div></div>
<!--NP-END-->
</body>
</html>
